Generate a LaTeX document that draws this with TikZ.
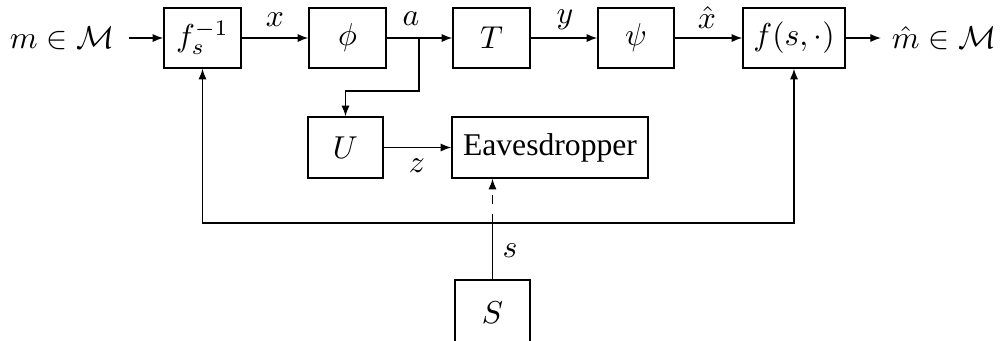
\documentclass[tikz,border=0pt]{standalone}
\usepackage{fontspec}
\setmainfont{Liberation Serif}
\usetikzlibrary{arrows.meta}
\begin{document}
\begin{tikzpicture}[x=0.316pt,y=-0.316pt,
  blk/.style 2 args={draw, line width=0.45pt, minimum width=#1*0.316pt, minimum height=#2*0.316pt, inner sep=0pt},
  arr/.style={line width=0.45pt, -{Latex[length=3.4pt,width=2.6pt]}},
  ln/.style={line width=0.45pt},
  lbl/.style={inner sep=0pt}]
\useasboundingbox (0,0) rectangle (1001,340);
% blocks
\node[blk={77}{60}] (fs) at (202.5,38) {$f_s^{-1}$};
\node[blk={77}{60}] (phi) at (347.5,38) {$\phi$};
\node[blk={77}{60}] (T) at (491.5,38) {$T$};
\node[blk={76}{60}] (psi) at (636,38) {$\psi$};
\node[blk={102}{60}] (fsc) at (794,38) {$f(s,\cdot)$};
\node[blk={75}{61}] (U) at (345.5,147.5) {$U$};
\node[blk={196}{61}] (Eav) at (550,147.5) {Eavesdropper};
\node[blk={75}{66}] (S) at (492.5,313) {$S$};
% in / out texts
\node[inner xsep=4.4pt, inner ysep=0pt] (m) at (62,38) {$m\in\mathcal{M}$};
\node[inner xsep=3.2pt, inner ysep=0pt] (mh) at (944,38) {$\hat{m}\in\mathcal{M}$};
% main chain
\draw[arr] (m.east) -- (fs.west);
\draw[arr] (fs.east) -- (phi.west);
\draw[arr] (phi.east) -- (T.west);
\draw[arr] (T.east) -- (psi.west);
\draw[arr] (psi.east) -- (fsc.west);
\draw[arr] (fsc.east) -- (mh.west);
% branch to U
\coordinate (br) at (419,38);
\draw[arr] (br) -- ++(0,53) -| (U.north);
\draw[arr] (U.east) -- (Eav.west);
% key feedback
\coordinate (fb) at (492.5,223);
\draw[ln] (S.north) -- (fb);
\draw[arr] (fb) -| (fs.south);
\draw[arr] (fb) -| (fsc.south);
\draw[arr, dashed] (fb) -- (fb |- Eav.south);
% labels
\node[lbl] (lx) at (275,20) {$x$};
\node[lbl] (la) at (411,19) {$a$};
\node[lbl] (ly) at (565,20) {$y$};
\node[lbl] (lxh) at (707,18) {$\hat{x}$};
\node[lbl] (lz) at (417,166) {$z$};
\node[lbl] (ls) at (510,251) {$s$};
\end{tikzpicture}
\end{document}
